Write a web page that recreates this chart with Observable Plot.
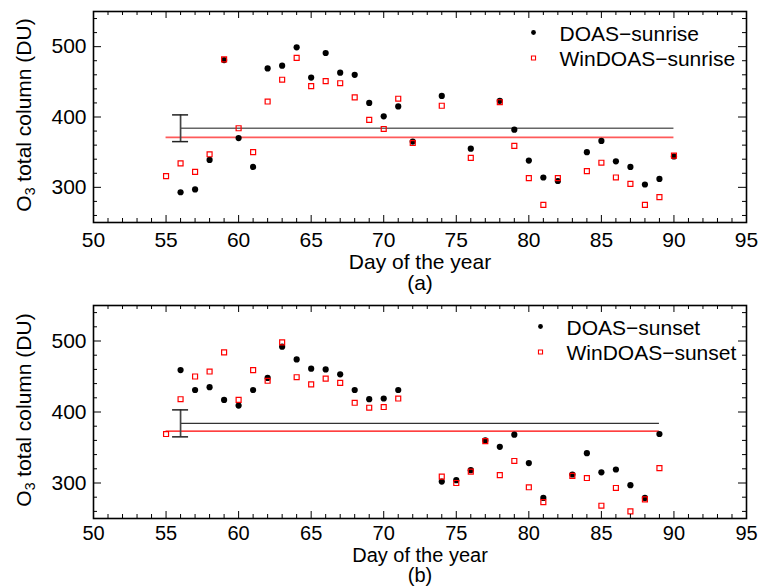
<!DOCTYPE html>
<html><head><meta charset="utf-8">
<script src="https://cdn.jsdelivr.net/npm/d3@7"></script>
<script src="https://cdn.jsdelivr.net/npm/@observablehq/plot@0.6"></script>
<style>body{margin:0;background:#fff} svg{display:block}</style>
</head><body><div id="chart"></div>
<script>
const FONT = '"Liberation Sans", Arial, Helvetica, sans-serif';
const YLABEL = "O3 total column (DU)";
const XLABEL = "Day of the year";

// Panel (a): sunrise
const riseDoasDays = [56,57,58,59,60,61,62,63,64,65,66,67,68,69,70,71,72,74,76,78,79,80,81,82,84,85,86,87,88,89,90];
const riseDoasO3   = [293,297,339,481,370,329,469,473,499,456,491,463,460,420,401,415,365,430,355,423,382,338,314,309,350,366,337,329,304,312,344];
const riseWinDays  = [55,56,57,58,59,60,61,62,63,64,65,66,67,68,69,70,71,72,74,76,78,79,80,81,82,84,85,86,87,88,89,90];
const riseWinO3    = [316,334,322,347,482,384,350,422,453,484,444,451,448,428,396,383,426,363,416,342,421,359,313,275,313,323,335,314,305,275,286,345];

// Panel (b): sunset
const setDoasDays = [56,57,58,59,60,61,62,63,64,65,66,67,68,69,70,71,74,75,76,77,78,79,80,81,83,84,85,86,87,88,89];
const setDoasO3   = [459,431,435,417,409,431,448,492,474,461,460,453,431,418,419,431,302,304,318,360,351,368,328,279,312,342,315,319,297,279,369];
const setWinDays  = [55,56,57,58,59,60,61,62,63,64,65,66,67,68,69,70,71,74,75,76,77,78,79,80,81,83,84,85,86,87,88,89];
const setWinO3    = [369,418,450,457,484,417,459,444,498,449,439,447,441,413,406,407,419,309,300,316,359,311,331,294,273,310,307,268,293,260,277,321];

// Mean lines and error bar
const riseMeans = [{series:"DOAS", y:384, x1:56, x2:90}, {series:"WinDOAS", y:371, x1:55, x2:90}];
const setMeans  = [{series:"DOAS", y:384, x1:56, x2:89}, {series:"WinDOAS", y:373, x1:55, x2:89}];
const errBar = {day:56, lo:365, hi:403};

// Axes
const xDomain = [50, 95];
const yDomain = [250, 550];
const xTickLabels = [50,55,60,65,70,75,80,85,90,95];
const yTickLabels = [300,400,500];
const xMinorTicks = d3.range(51, 95).filter(d => d % 5 !== 0);
const yMinorTicks = [260,280,320,340,360,380,420,440,460,480,520,540];

function pts(days, vals) { return days.map((d, i) => ({day: d, o3: vals[i]})); }

function panel({doas, win, means, legendDoas, legendWin, tag, marginTop, marginBottom, legDx, tickPad, labelDy, tagDy, axisFont}) {
  const W = 759, H = 293, ML = 93, MR = 13;
  const pw = W - ML - MR, ph = H - marginTop - marginBottom;
  const svg = Plot.plot({
    width: W, height: H,
    marginLeft: ML, marginRight: MR, marginTop, marginBottom,
    x: {domain: xDomain},
    y: {domain: yDomain},
    style: {fontFamily: FONT, fontSize: "21px", color: "black", background: "white", overflow: "visible"},
    marks: [
      // mean lines
      Plot.ruleY(means, {y: "y", x1: "x1", x2: "x2",
        stroke: d => d.series === "DOAS" ? (tag === "(a)" ? "#666" : "#333") : (tag === "(a)" ? "#ff5a5a" : "#ff0000"),
        strokeWidth: tag === "(a)" ? 1.7 : 1.3}),
      // error bar
      Plot.ruleX([errBar], {x: "day", y1: "lo", y2: "hi", stroke: "#444", strokeWidth: 1.7}),
      Plot.ruleY([errBar.lo, errBar.hi], {y: d => d, x1: () => errBar.day, x2: () => errBar.day, insetLeft: -8, insetRight: -8, stroke: "#222", strokeWidth: 1.5}),
      // data
      Plot.dot(doas, {x: "day", y: "o3", r: 3.1, fill: "black", stroke: "none"}),
      Plot.dot(win, {x: "day", y: "o3", symbol: "square", r: 2.8, fill: "none", stroke: "#ff0000", strokeWidth: 1.2}),
      // ticks (inward, all four sides)
      Plot.ruleX(xMinorTicks, {x: d => d, insetTop: ph - 4, stroke: "black"}),
      Plot.ruleX(xTickLabels, {x: d => d, insetTop: ph - 7, stroke: "black"}),
      Plot.ruleX(xMinorTicks, {x: d => d, insetBottom: ph - 4, stroke: "black"}),
      Plot.ruleX(xTickLabels, {x: d => d, insetBottom: ph - 7, stroke: "black"}),
      Plot.ruleY(yMinorTicks, {y: d => d, insetRight: pw - 4, stroke: "black"}),
      Plot.ruleY(yTickLabels, {y: d => d, insetRight: pw - 8, stroke: "black"}),
      Plot.ruleY(yMinorTicks, {y: d => d, insetLeft: pw - 4, stroke: "black"}),
      Plot.ruleY(yTickLabels, {y: d => d, insetLeft: pw - 8, stroke: "black"}),
      Plot.frame({stroke: "black", strokeWidth: 1.6}),
      // axes labels
      Plot.axisX(xTickLabels, {tickSize: 0, tickPadding: tickPad, label: null, tickFormat: d => String(d), fontSize: axisFont}),
      Plot.axisY(yTickLabels, {tickSize: 0, tickPadding: 7, label: null, tickFormat: d => String(d), fontSize: 21}),
      Plot.text([XLABEL], {frameAnchor: "bottom", dy: labelDy, lineAnchor: "bottom", text: d => d, fontSize: axisFont}),
      Plot.text([tag], {frameAnchor: "bottom", dy: tagDy, lineAnchor: "bottom", text: d => d, fontSize: axisFont}),
      Plot.text([YLABEL], {frameAnchor: "left", dx: -63, dy: -2, rotate: -90, lineAnchor: "bottom", textAnchor: "middle", text: d => d, fontSize: 21}),
      // legend
      Plot.dot([legendDoas], {frameAnchor: "top-right", dx: legDx, dy: 21, r: 2.4, fill: "black"}),
      Plot.text([legendDoas], {frameAnchor: "top-right", dx: legDx + 26, dy: 23, textAnchor: "start", lineAnchor: "middle", text: d => d, fontSize: 21}),
      Plot.dot([legendWin], {frameAnchor: "top-right", dx: legDx, dy: 46.5, symbol: "square", r: 2.3, fill: "none", stroke: "#ff0000", strokeWidth: 1.1}),
      Plot.text([legendWin], {frameAnchor: "top-right", dx: legDx + 26, dy: 47.5, textAnchor: "start", lineAnchor: "middle", text: d => d, fontSize: 21})
    ]
  });
  // subscript in O3
  svg.querySelectorAll("text").forEach(t => {
    if (t.textContent === YLABEL) {
      const inner = t.querySelector("tspan");
      if (inner) { for (const a of ["x","y","dy"]) { if (inner.hasAttribute(a)) t.setAttribute(a, inner.getAttribute(a)); } }
      t.textContent = "";
      const ns = "http://www.w3.org/2000/svg";
      const a = document.createElementNS(ns, "tspan"); a.textContent = "O";
      const b = document.createElementNS(ns, "tspan"); b.textContent = "3"; b.setAttribute("dy", "4"); b.setAttribute("font-size", "14");
      const c = document.createElementNS(ns, "tspan"); c.textContent = " total column (DU)"; c.setAttribute("dy", "-4");
      t.append(a, b, c);
    }
  });
  return svg;
}

const root = document.getElementById("chart");
root.append(panel({
  doas: pts(riseDoasDays, riseDoasO3), win: pts(riseWinDays, riseWinO3), means: riseMeans,
  legendDoas: "DOAS\u2212sunrise", legendWin: "WinDOAS\u2212sunrise", tag: "(a)",
  marginTop: 11, marginBottom: 71, legDx: -213, tickPad: 10, labelDy: 46, tagDy: 67, axisFont: 21
}));
root.append(panel({
  doas: pts(setDoasDays, setDoasO3), win: pts(setWinDays, setWinO3), means: setMeans,
  legendDoas: "DOAS\u2212sunset", legendWin: "WinDOAS\u2212sunset", tag: "(b)",
  marginTop: 12, marginBottom: 68, legDx: -206, tickPad: 7, labelDy: 43, tagDy: 63.5, axisFont: 20
}));
</script>
</body></html>
